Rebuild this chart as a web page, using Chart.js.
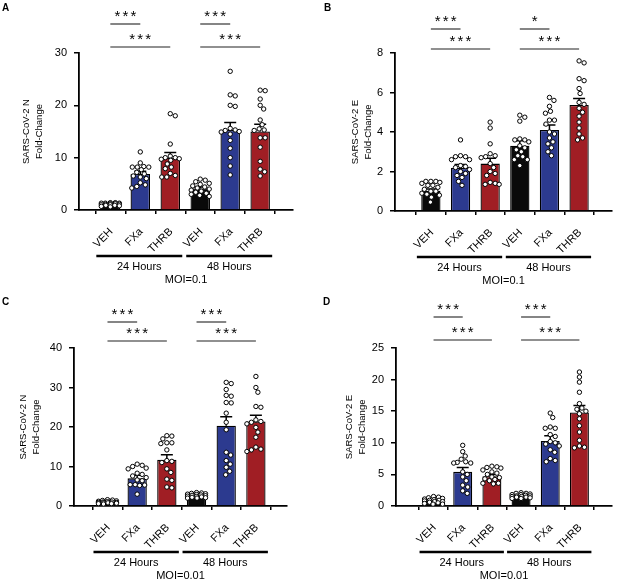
<!DOCTYPE html>
<html>
<head>
<meta charset="utf-8">
<script src="https://cdn.jsdelivr.net/npm/chart.js@4.4.0/dist/chart.umd.min.js"></script>
<style>
  body { margin: 0; background: #fff; width: 617px; height: 583px; position: relative; overflow: hidden; }
  canvas { position: absolute; }
</style>
</head>
<body>
<canvas id="cA" width="300" height="290" style="left:0;top:0"></canvas>
<canvas id="cB" width="317" height="290" style="left:300px;top:0"></canvas>
<canvas id="cC" width="300" height="293" style="left:0;top:290px"></canvas>
<canvas id="cD" width="317" height="293" style="left:300px;top:290px"></canvas>
<script>
const FAM = "'Liberation Sans', Arial, Helvetica, sans-serif";
Chart.defaults.font.family = FAM;
Chart.defaults.color = '#000';

const groupLabels = ['VEH', 'FXa', 'THRB', 'VEH', 'FXa', 'THRB'];
const timeLabels = ['24 Hours', '48 Hours'];
const barColors = ['#0a0a0a', '#2c3a8f', '#a01e24', '#0a0a0a', '#2c3a8f', '#a01e24'];
const pairs = [[0, 1], [0, 2], [3, 4], [3, 5]];

// A: SARS-CoV-2 N, MOI=0.1
const aMeans = [1.1, 6.9, 10.0, 4.1, 15.3, 15.0];
const aSem = [0.1, 0.5, 1.0, 0.3, 1.4, 1.4];
const aPoints = [
  [1.4, 1.4, 1.3, 1.3, 1.3, 1.2, 1.2, 1.1, 1.1, 1.0, 1.0, 0.9, 0.9, 0.8, 0.7, 0.6],
  [11.1, 9.0, 8.3, 8.2, 8.2, 8.2, 7.7, 7.2, 6.9, 6.5, 6.3, 6.0, 5.2, 4.8, 4.5, 4.2],
  [18.0, 18.4, 12.6, 10.3, 10.0, 10.0, 9.8, 9.7, 9.5, 8.8, 8.2, 7.9, 7.0, 6.3, 6.3, 6.6],
  [5.9, 5.7, 5.4, 5.1, 4.9, 4.6, 4.4, 4.2, 4.0, 3.8, 3.6, 3.4, 3.2, 3.0, 2.8, 2.6],
  [26.5, 22.0, 21.8, 20.0, 19.8, 15.6, 15.3, 15.2, 15.0, 14.9, 14.5, 13.3, 11.8, 10.0, 8.4, 6.7],
  [22.9, 22.8, 21.2, 20.0, 19.3, 17.2, 16.3, 15.5, 15.3, 15.2, 13.8, 13.8, 12.0, 9.3, 7.8, 7.3, 6.5]
];
const aStars = ['***', '***', '***', '***'];

// B: SARS-CoV-2 E, MOI=0.1
const bMeans = [1.03, 2.18, 2.4, 3.31, 4.1, 5.37];
const bSem = [0.08, 0.17, 0.27, 0.25, 0.25, 0.33];
const bPoints = [
  [1.5, 1.5, 1.5, 1.45, 1.4, 1.3, 1.3, 1.2, 1.1, 1.0, 1.0, 0.9, 0.85, 0.8, 0.7, 0.45],
  [3.6, 2.8, 2.75, 2.75, 2.6, 2.6, 2.3, 2.25, 2.2, 2.1, 2.0, 1.9, 1.8, 1.7, 1.5, 1.3],
  [4.5, 4.2, 3.4, 2.9, 2.8, 2.75, 2.7, 2.4, 2.2, 2.0, 1.9, 1.8, 1.45, 1.4, 1.35, 1.35],
  [4.85, 4.75, 4.55, 3.65, 3.6, 3.6, 3.5, 3.3, 3.2, 3.1, 3.0, 2.8, 2.75, 2.6, 2.6, 2.3],
  [5.75, 5.6, 5.3, 5.05, 4.95, 4.6, 4.6, 4.4, 4.0, 3.9, 3.7, 3.5, 3.4, 3.2, 3.0, 2.8],
  [7.6, 7.5, 6.7, 6.6, 6.2, 5.95, 5.5, 5.4, 5.2, 5.0, 4.8, 4.5, 4.2, 3.9, 3.7, 3.6]
];
const bStars = ['***', '***', '*', '***'];

// C: SARS-CoV-2 N, MOI=0.01
const cMeans = [1.0, 7.0, 11.7, 2.6, 20.3, 21.4];
const cSem = [0.1, 0.8, 1.3, 0.2, 2.3, 1.6];
const cPoints = [
  [1.6, 1.5, 1.4, 1.3, 1.2, 1.1, 1.0, 1.0, 0.9, 0.9, 0.8, 0.8, 0.7, 0.6, 0.6, 0.5],
  [10.6, 10.3, 10.0, 9.6, 9.4, 8.3, 8.0, 7.6, 7.2, 6.6, 6.4, 5.4, 5.4, 5.3, 5.2, 3.0],
  [17.8, 17.7, 17.0, 16.0, 16.0, 15.8, 14.2, 11.5, 11.3, 11.0, 9.4, 8.5, 6.8, 6.5, 4.8, 4.6],
  [3.4, 3.3, 3.2, 3.1, 3.0, 2.9, 2.8, 2.7, 2.6, 2.5, 2.4, 2.3, 2.2, 2.1, 2.0, 2.0],
  [31.3, 31.0, 29.5, 28.0, 27.8, 26.2, 26.1, 23.5, 21.2, 19.3, 13.6, 12.9, 11.5, 10.6, 9.8, 8.8, 7.9],
  [32.8, 30.0, 28.8, 25.2, 25.0, 21.8, 21.4, 21.2, 20.8, 19.9, 18.7, 17.4, 14.9, 14.4, 14.2, 13.8]
];
const cStars = ['***', '***', '***', '***'];

// D: SARS-CoV-2 E, MOI=0.01
const dMeans = [0.8, 5.4, 4.7, 1.6, 10.3, 14.8];
const dSem = [0.1, 0.7, 0.3, 0.1, 0.8, 1.1];
const dPoints = [
  [1.5, 1.4, 1.3, 1.2, 1.1, 1.0, 0.9, 0.9, 0.8, 0.7, 0.7, 0.6, 0.5, 0.4, 0.3, 0.3],
  [9.6, 8.6, 7.9, 7.4, 7.0, 6.9, 6.8, 6.8, 5.4, 5.0, 4.6, 4.0, 3.3, 3.0, 2.4, 2.0],
  [6.3, 6.2, 6.1, 6.0, 5.7, 5.4, 5.2, 5.0, 4.6, 4.5, 4.3, 4.2, 4.0, 3.6, 3.6, 3.5],
  [2.1, 2.0, 2.0, 1.9, 1.8, 1.8, 1.7, 1.6, 1.6, 1.5, 1.5, 1.4, 1.4, 1.3, 1.2, 1.2],
  [14.7, 14.0, 12.5, 12.3, 12.3, 11.3, 11.0, 10.2, 10.0, 9.8, 9.5, 8.9, 8.5, 7.5, 7.2, 7.0],
  [21.2, 20.4, 19.6, 18.0, 16.2, 15.5, 15.3, 15.0, 14.6, 13.8, 12.7, 11.7, 10.4, 9.5, 9.3, 9.2]
];
const dStars = ['***', '***', '***', '***'];

// group name at 45 degrees, its end sitting under the tick
function drawSlanted(ctx, text, ax, ay) {
  ctx.save();
  ctx.setTransform(1, 0, 0, 1, 0, 0);
  const r = window.devicePixelRatio || 1;
  const k = Math.SQRT1_2 * r;
  ctx.setTransform(k, -k, k, k, ax * r, ay * r);
  ctx.textAlign = 'right';
  ctx.textBaseline = 'middle';
  ctx.fillText(text, 0, 0);
  ctx.restore();
}

// significance bars, error bars, slanted group names, time groups
const annot = {
  id: 'annot',
  afterDatasetDraw(chart, args, o) {
    if (args.index !== 0) return;
    const ctx = chart.ctx, y = chart.scales.y;
    ctx.save();
    ctx.strokeStyle = '#000';
    ctx.lineWidth = 1.5;
    args.meta.data.forEach((bar, i) => {
      const top = y.getPixelForValue(o.means[i] + o.sem[i]);
      ctx.beginPath();
      ctx.moveTo(bar.x, bar.y);
      ctx.lineTo(bar.x, top);
      ctx.moveTo(bar.x - 6, top);
      ctx.lineTo(bar.x + 6, top);
      ctx.stroke();
    });
    ctx.restore();
  },
  afterDraw(chart, args, o) {
    const ctx = chart.ctx, x = chart.scales.x, a = chart.chartArea;
    ctx.save();
    ctx.fillStyle = '#000';
    ctx.strokeStyle = '#000';

    ctx.font = 'bold 10px ' + FAM;
    ctx.textAlign = 'left';
    ctx.textBaseline = 'top';
    ctx.fillText(o.letter, o.letterPos[0], o.letterPos[1]);

    ctx.font = '11px ' + FAM;
    groupLabels.forEach((lab, i) => {
      drawSlanted(ctx, lab, x.getPixelForValue(i) + 1, a.bottom + 20);
    });

    pairs.forEach((p, k) => {
      const ly = a.top + o.lineY[k % 2];
      const x1 = x.getPixelForValue(p[0]), x2 = x.getPixelForValue(p[1]);
      ctx.strokeStyle = '#222';
      ctx.lineWidth = 1.1;
      ctx.beginPath();
      ctx.moveTo(x1, ly);
      ctx.lineTo(x2, ly);
      ctx.stroke();
      // asterisks one by one, 8px apart
      const n = o.stars[k].length, cx = (x1 + x2) / 2;
      ctx.font = '15px ' + FAM;
      ctx.textAlign = 'center';
      ctx.textBaseline = 'alphabetic';
      for (let j = 0; j < n; j++) {
        ctx.fillText('*', cx + (j - (n - 1) / 2) * 8, ly - 12 + 8.5);
      }
    });

    ctx.strokeStyle = '#000';
    const gy = a.bottom + 46;
    [0, 3].forEach((g, k) => {
      const x1 = x.getPixelForValue(g) - 14, x2 = x.getPixelForValue(g + 2) + 12;
      ctx.lineWidth = 2.5;
      ctx.beginPath();
      ctx.moveTo(x1, gy);
      ctx.lineTo(x2, gy);
      ctx.stroke();
      ctx.font = '11px ' + FAM;
      ctx.textAlign = 'center';
      ctx.textBaseline = 'middle';
      ctx.fillText(timeLabels[k], (x1 + x2) / 2, gy + 11);
    });
    ctx.font = '11px ' + FAM;
    ctx.textAlign = 'center';
    ctx.textBaseline = 'middle';
    ctx.fillText(o.moi, (a.left + a.right) / 2, gy + 24);
    ctx.restore();
  }
};

// beeswarm-like spread of dots inside each bar, computed in pixel space
function spreadDots(chart, pts) {
  const xs = chart.scales.x, ys = chart.scales.y;
  const d = 5.0, maxOff = 9;
  const out = [];
  pts.forEach((vals, gi) => {
    const cx = xs.getPixelForValue(gi);
    const placed = [];
    vals.slice().sort((p, q) => q - p).forEach(v => {
      const py = ys.getPixelForValue(v);
      let best = 0, bestScore = Infinity;
      for (let s = 0; s <= maxOff * 4; s++) {
        const off = (s % 2 ? 1 : -1) * Math.ceil(s / 2) * 0.5;
        let score = 0;
        placed.forEach(p => {
          const dist = Math.hypot(p[0] - off, p[1] - py);
          if (dist < d) score += d - dist;
        });
        if (score < bestScore - 1e-6) { bestScore = score; best = off; }
      }
      placed.push([best, py]);
      out.push({ x: xs.getValueForPixel(cx + best), y: v });
    });
  });
  chart.data.datasets[1].data = out;
  chart.update('none');
}

function makePanel(id, p) {
  const canvas = document.getElementById(id);
  const cw = canvas.width, ch = canvas.height;
  const flat = [];
  p.points.forEach((vals, gi) => vals.forEach(v => flat.push({ x: gi, y: v })));
  const chart = new Chart(canvas, {
    type: 'bar',
    data: {
      datasets: [{
        type: 'bar',
        data: p.means.map((m, i) => ({ x: i, y: m })),
        backgroundColor: barColors,
        borderColor: '#000',
        borderWidth: 1.3,
        categoryPercentage: 0.65,
        barPercentage: 1,
        order: 2
      }, {
        type: 'scatter',
        data: flat,
        pointRadius: 2.2,
        pointBackgroundColor: '#fff',
        pointBorderColor: '#000',
        pointBorderWidth: 1,
        order: 1
      }]
    },
    options: {
      responsive: false,
      animation: false,
      events: [],
      layout: { padding: { top: p.area[1], right: cw - p.area[2], bottom: 0, left: 0 } },
      plugins: {
        legend: { display: false },
        tooltip: { enabled: false },
        annot: {
          means: p.means, sem: p.sem, stars: p.stars, letter: p.letter,
          letterPos: p.letterPos, lineY: p.lineY, moi: p.moi
        }
      },
      scales: {
        x: {
          type: 'linear',
          min: p.xRange[0],
          max: p.xRange[1],
          afterBuildTicks: s => { s.ticks = groupLabels.map((_, i) => ({ value: i })); },
          afterFit: s => { s.height = ch - p.area[3]; },
          ticks: { display: false },
          grid: { drawOnChartArea: false, tickLength: 4, color: '#000', lineWidth: 1.5 },
          border: { color: '#000', width: 1.8 }
        },
        y: {
          min: 0,
          max: p.yMax,
          afterFit: s => { s.width = p.area[0]; },
          ticks: { stepSize: p.yStep, padding: 7, font: { size: 11 } },
          grid: { drawOnChartArea: false, tickLength: 5, color: '#000', lineWidth: 1.5 },
          border: { color: '#000', width: 1.8 },
          title: {
            display: true,
            text: p.yTitle,
            font: { size: 9.5, lineHeight: 1.35 },
            padding: { top: p.titlePad, bottom: 0 }
          }
        }
      }
    },
    plugins: [annot]
  });
  spreadDots(chart, p.points);
  return chart;
}

makePanel('cA', {
  means: aMeans, sem: aSem, points: aPoints, stars: aStars, letter: 'A', letterPos: [2, 3],
  area: [79, 53, 293, 210], xRange: [-0.45, 5.5], yMax: 30, yStep: 10,
  yTitle: ['SARS-CoV-2 N', 'Fold-Change'], titlePad: 20, lineY: [-29, -6], moi: 'MOI=0.1'
});
makePanel('cB', {
  means: bMeans, sem: bSem, points: bPoints, stars: bStars, letter: 'B', letterPos: [24, 3],
  area: [95, 53, 313, 211], xRange: [-0.6, 5.5], yMax: 8, yStep: 2,
  yTitle: ['SARS-CoV-2 E', 'Fold-Change'], titlePad: 49, lineY: [-24, -4], moi: 'MOI=0.1'
});
makePanel('cC', {
  means: cMeans, sem: cSem, points: cPoints, stars: cStars, letter: 'C', letterPos: [2, 7],
  area: [74, 58, 287, 216], xRange: [-0.53, 5.45], yMax: 40, yStep: 10,
  yTitle: ['SARS-CoV-2 N', 'Fold-Change'], titlePad: 17, lineY: [-26, -7], moi: 'MOI=0.01'
});
makePanel('cD', {
  means: dMeans, sem: dSem, points: dPoints, stars: dStars, letter: 'D', letterPos: [23, 7],
  area: [96, 58, 317, 216], xRange: [-0.67, 5.5], yMax: 25, yStep: 5,
  yTitle: ['SARS-CoV-2 E', 'Fold-Change'], titlePad: 43, lineY: [-31, -8], moi: 'MOI=0.01'
});
</script>
</body>
</html>
